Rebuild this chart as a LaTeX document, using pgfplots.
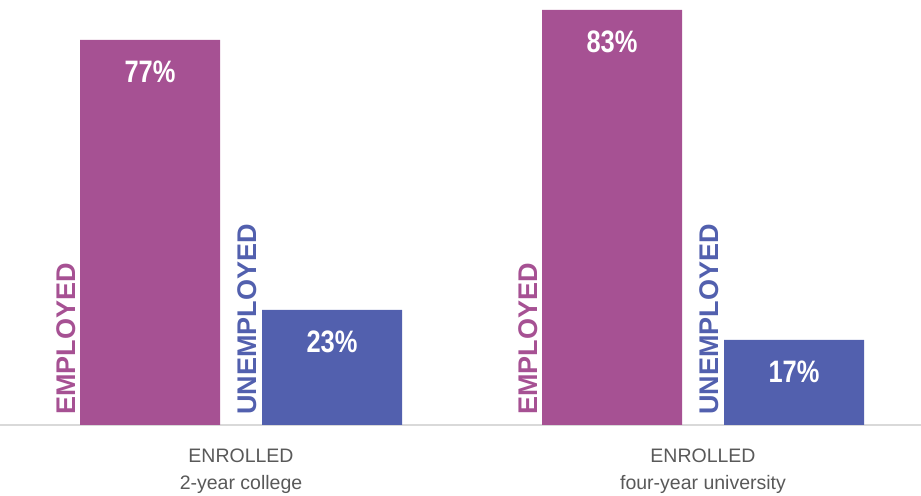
\documentclass[border=0pt]{standalone}
\usepackage{pgfplots}
\pgfplotsset{compat=1.18}
\usepackage{fontspec}
\setmainfont{Liberation Sans}
\newfontfamily\narrow[FakeStretch=0.82]{Liberation Sans}
\definecolor{emp}{HTML}{A65193}
\definecolor{unemp}{HTML}{5260AE}
\definecolor{lab}{HTML}{595959}
\begin{document}
\begin{tikzpicture}
\useasboundingbox (0,-35.5pt) rectangle (460.5pt,212.5pt);
\begin{axis}[at={(0,0)}, anchor=origin, scale only axis,
  width=460.5pt, height=212.5pt,
  xmin=0, xmax=921, ymin=0, ymax=85,
  axis y line=none, axis x line=bottom,
  axis line style={-, draw=black!15, line width=1pt},
  xtick={241,703},
  xticklabels={{ENROLLED\\2-year college},{ENROLLED\\four-year university}},
  xticklabel style={align=center, text=lab, font=\fontsize{9.75pt}{13.5pt}\selectfont, yshift=-8.5pt},
  major tick length=0,
  /pgf/number format/assume math mode=true,
  ybar, bar width=140,
  nodes near coords={\pgfmathprintnumber{\pgfplotspointmeta}\%},
  every node near coord/.append style={font=\narrow\bfseries\fontsize{15.5pt}{16pt}\selectfont, text=white, anchor=center, yshift=-16pt},
  clip=false]
\addplot[fill=emp, draw=none, bar shift=0pt] coordinates {(150,77) (612,83)};
\addplot[fill=unemp, draw=none, bar shift=0pt] coordinates {(332,23) (794,17)};
\node[rotate=90, anchor=base west, inner sep=0, text=emp, font=\bfseries\fontsize{13.5pt}{14pt}\selectfont] at (axis cs:75,2) {EMPLOYED};
\node[rotate=90, anchor=base west, inner sep=0, text=unemp, font=\bfseries\fontsize{13.5pt}{14pt}\selectfont] at (axis cs:256,2) {UNEMPLOYED};
\node[rotate=90, anchor=base west, inner sep=0, text=emp, font=\bfseries\fontsize{13.5pt}{14pt}\selectfont] at (axis cs:537,2) {EMPLOYED};
\node[rotate=90, anchor=base west, inner sep=0, text=unemp, font=\bfseries\fontsize{13.5pt}{14pt}\selectfont] at (axis cs:718,2) {UNEMPLOYED};
\end{axis}
\end{tikzpicture}
\end{document}
